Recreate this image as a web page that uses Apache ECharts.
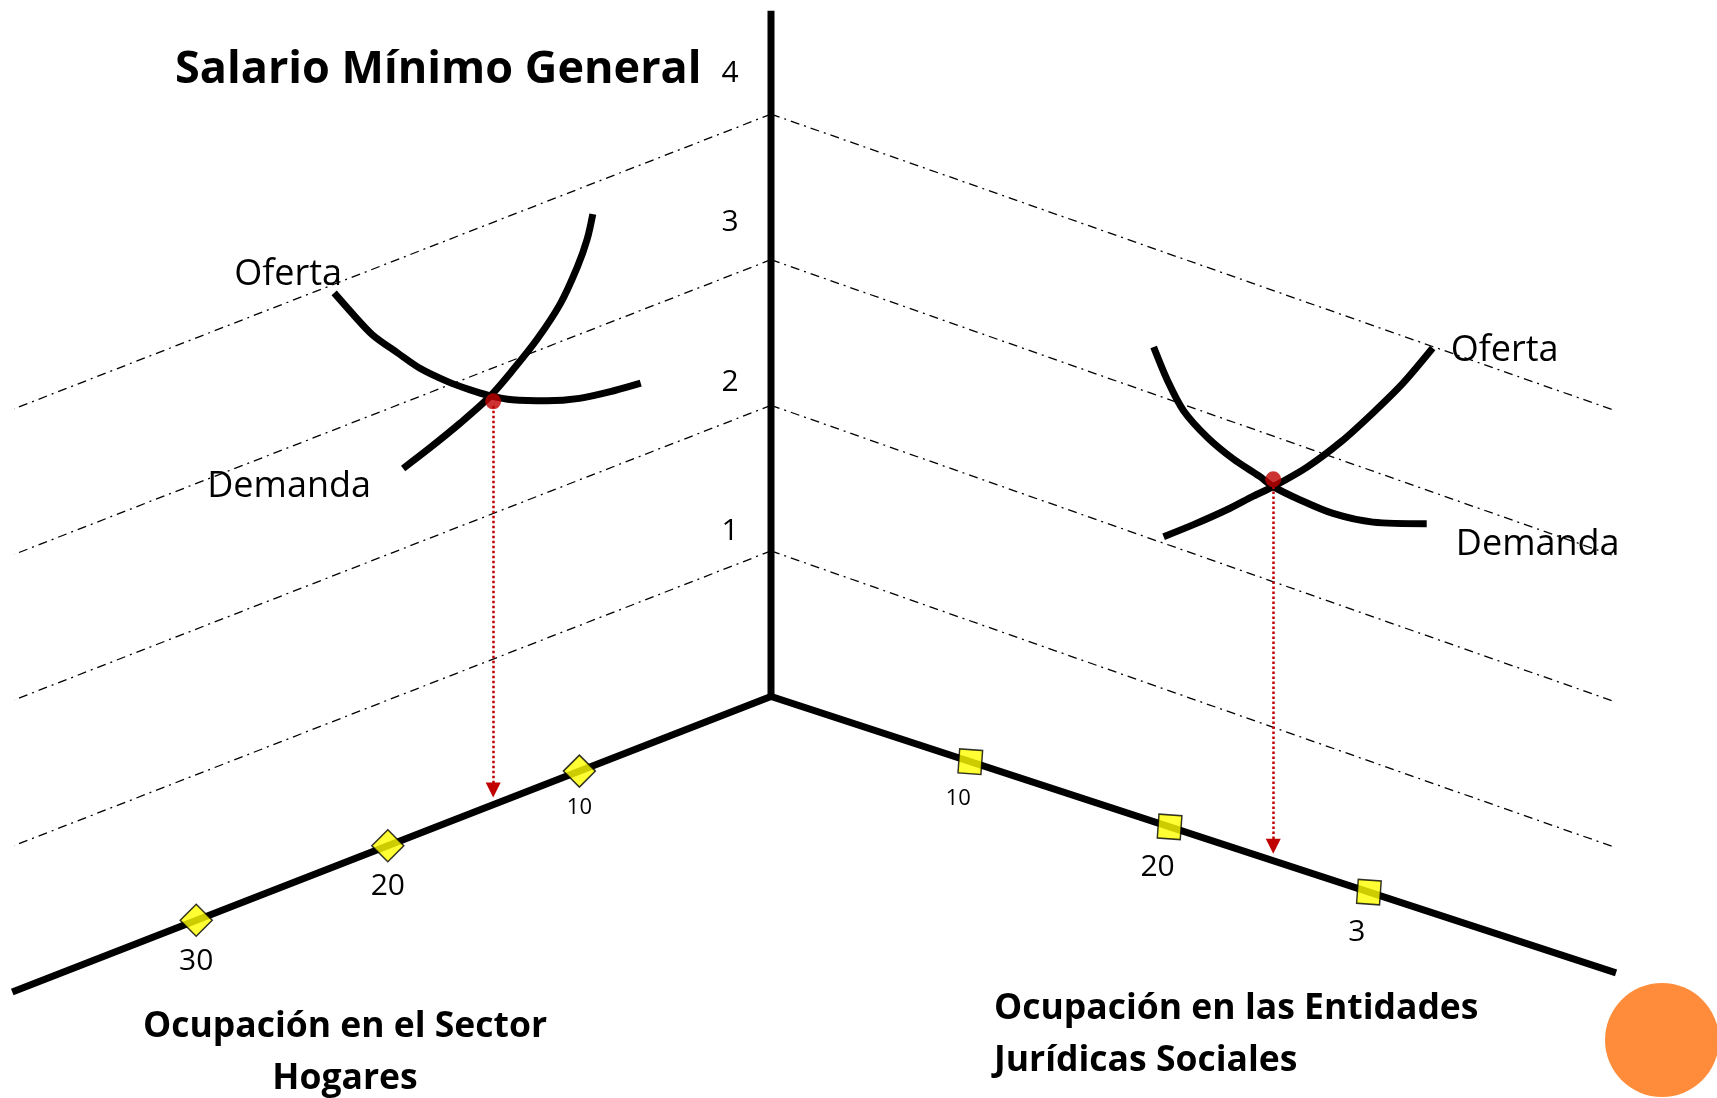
<!DOCTYPE html>
<html>
<head>
<meta charset="utf-8">
<title>Salario Mínimo General</title>
<script src="https://cdn.jsdelivr.net/npm/echarts@6/dist/echarts.min.js"></script>
<style>
    html, body { margin: 0; padding: 0; background: #fff; }
    #main { width: 1717px; height: 1098px; }
</style>
</head>
<body>
<div id="main"></div>
<script>
// eje vertical: salario minimo
var wageTicks = [1, 2, 3, 4];
var wageLabels = ['1', '2', '3', '4'];
var wageMax = 4.71;

// eje izquierdo: ocupacion en el sector hogares  [ocupacion, salario]
var hogaresTicks = [10, 20, 30];
var hogaresLabels = ['10', '20', '30'];
var hogaresMax = 39.6;
var hogaresOferta = [[22.8, 3.94], [21.8, 3.74], [20.8, 3.55], [19.5, 3.36], [18.3, 3.19], [16.9, 3.03], [15.7, 2.91],
    [14.7, 2.82], [13.5, 2.73], [11.7, 2.63], [10.0, 2.56], [8.2, 2.52], [6.8, 2.50]];
var hogaresDemanda = [[19.2, 2.55], [17.8, 2.62], [16.2, 2.71], [14.7, 2.81], [13.5, 2.93], [12.2, 3.08],
    [11.0, 3.26], [10.1, 3.47], [9.6, 3.63], [9.3, 3.79]];
var hogaresEquilibrio = [14.5, 2.77];

// eje derecho: ocupacion en las entidades juridicas sociales
var entidadesTicks = [10, 20, 30];
var entidadesLabels = ['10', '20', '3'];
var entidadesMax = 42.4;
var entidadesOferta = [[19.7, 1.98], [21.2, 2.13], [22.9, 2.31], [24.2, 2.46], [25.2, 2.57], [26.9, 2.78],
    [28.6, 3.03], [30.2, 3.30], [31.7, 3.57], [33.2, 3.88]];
var entidadesDemanda = [[19.2, 3.26], [19.9, 3.06], [20.7, 2.89], [21.9, 2.76], [23.2, 2.67], [24.5, 2.61],
    [25.2, 2.57], [26.5, 2.54], [28.2, 2.52], [30.2, 2.55], [32.9, 2.66]];
var entidadesEquilibrio = [25.2, 2.62];

// proyeccion oblicua de los dos planos sobre la pantalla
var origin = [771, 696.5];
var unitL = [-19.16, 7.46];
var unitR = [19.93, 6.52];
var unitW = 145.6;
var rightTilt = 0.14;

function pl(u, w) {
    return [origin[0] + u * unitL[0], origin[1] + u * unitL[1] - w * unitW];
}
function pr(v, w) {
    return [origin[0] + v * unitR[0], origin[1] + v * unitR[1] - w * unitW];
}
function mapL(arr) { return arr.map(function (p) { return pl(p[0], p[1]); }); }
function mapR(arr) { return arr.map(function (p) { return pr(p[0], p[1]); }); }

var FONT = '"Open Sans", "Noto Sans", sans-serif';
var dashStyle = { color: '#000', width: 1.3, type: [9, 5, 2, 5] };
var axisStyle = { color: '#000', width: 7, join: 'miter' };
var curveStyle = { color: '#000', width: 7 };
var wageLabelDy = [-19, -23, -37, -41];

function lineSeries(points, style, z, smooth) {
    return {
        type: 'line', data: points, symbol: 'none', smooth: smooth || false,
        lineStyle: style, z: z, silent: true, clip: false, animation: false
    };
}

function txt(formatter, size, offset) {
    var l = { formatter: formatter, fontSize: size, color: '#000', opacity: 1, textBorderWidth: 0 };
    if (offset) l.offset = offset;
    return l;
}

function textSeries(items, z) {
    return {
        type: 'scatter', symbol: 'circle', symbolSize: 1, silent: true, animation: false,
        itemStyle: { color: 'rgba(0,0,0,0)' }, z: z,
        label: { show: true, position: 'inside', color: '#000', fontFamily: FONT },
        data: items
    };
}

var series = [];

// lineas de referencia (raya-punto)
wageTicks.forEach(function (k) {
    series.push(lineSeries([pl(0, k), pl(hogaresMax - 0.1, k)], dashStyle, 1));
    series.push(lineSeries([pr(0, k), pr(entidadesMax, k - rightTilt)], dashStyle, 1));
});

// ejes
series.push(lineSeries([pl(hogaresMax, 0), pl(0, 0), pr(entidadesMax, 0)], axisStyle, 2));
series.push(lineSeries([pl(0, 0), pl(0, wageMax)], axisStyle, 2));

// curvas de oferta y demanda
series.push(lineSeries(mapL(hogaresOferta), curveStyle, 3, 0.3));
series.push(lineSeries(mapL(hogaresDemanda), curveStyle, 3, 0.3));
series.push(lineSeries(mapR(entidadesOferta), curveStyle, 3, 0.3));
series.push(lineSeries(mapR(entidadesDemanda), curveStyle, 3, 0.3));

// equilibrio + flecha hasta el eje
series.push({
    type: 'scatter', symbol: 'circle', symbolSize: 16, silent: true, animation: false, z: 5,
    itemStyle: { color: '#C00000' },
    data: [pl(hogaresEquilibrio[0], hogaresEquilibrio[1]), pr(entidadesEquilibrio[0], entidadesEquilibrio[1])],
    markLine: {
        silent: true, animation: false,
        symbol: ['none', 'triangle'], symbolSize: 15,
        label: { show: false },
        lineStyle: { color: '#C00000', type: 'dotted', width: 2.5, opacity: 1 },
        data: [
            [{ coord: pl(hogaresEquilibrio[0], hogaresEquilibrio[1] - 0.03) }, { coord: pl(hogaresEquilibrio[0], 0.1) }],
            [{ coord: pr(entidadesEquilibrio[0], entidadesEquilibrio[1] - 0.05) }, { coord: pr(entidadesEquilibrio[0], 0.1) }]
        ]
    }
});

// marcas en los ejes de ocupacion
series.push({
    type: 'scatter', symbol: 'diamond', symbolSize: 32, silent: true, animation: false, z: 6,
    itemStyle: { color: '#FFFF00', borderColor: '#000', borderWidth: 1.5 },
    label: { show: true, position: 'bottom', distance: 9, color: '#000', fontFamily: FONT },
    data: hogaresTicks.map(function (t, i) {
        return { value: pl(t, 0), label: txt(hogaresLabels[i], i === 0 ? 22 : 30) };
    })
});
series.push({
    type: 'scatter', symbol: 'rect', symbolSize: [23, 24], symbolRotate: -4, silent: true, animation: false, z: 6,
    itemStyle: { color: '#FFFF00', borderColor: '#000', borderWidth: 1.5 },
    label: { show: true, position: 'bottom', distance: 12, offset: [-12, 0], color: '#000', fontFamily: FONT },
    data: entidadesTicks.map(function (t, i) {
        return { value: pr(t, 0), label: txt(entidadesLabels[i], i === 0 ? 22 : 30) };
    })
});

// etiquetas del eje vertical
series.push(textSeries(wageTicks.map(function (k, i) {
    return { value: pl(0, k), label: txt(wageLabels[i], 30, [-41, wageLabelDy[i]]) };
}), 7));

// nombres de las curvas
series.push(textSeries([
    { value: pl(hogaresOferta[0][0], hogaresOferta[0][1]), label: txt('Oferta', 36, [-46, -18]) },
    { value: pl(hogaresDemanda[0][0], hogaresDemanda[0][1]), label: txt('Demanda', 36, [-114, 18]) },
    { value: pr(entidadesOferta[9][0], entidadesOferta[9][1]), label: txt('Oferta', 36, [72, 3]) },
    { value: pr(entidadesDemanda[10][0], entidadesDemanda[10][1]), label: txt('Demanda', 36, [111, 21]) }
], 7));

var myChart = echarts.init(document.getElementById('main'));

var option = {
    animation: false,
    grid: { left: 0, right: 0, top: 0, bottom: 0 },
    xAxis: { type: 'value', min: 0, max: 1717, show: false },
    yAxis: { type: 'value', min: 0, max: 1098, inverse: true, show: false },
    graphic: [
        {
            type: 'text', x: 175, y: 70, z: 10,
            style: { text: 'Salario Mínimo General', font: 'bold 45px ' + FONT, fill: '#000', verticalAlign: 'middle' }
        },
        {
            type: 'text', x: 345, y: 1001, z: 10,
            style: { text: 'Ocupación en el Sector\nHogares', font: 'bold 35.5px ' + FONT, fill: '#000', align: 'center', verticalAlign: 'top', lineHeight: 52 }
        },
        {
            type: 'text', x: 994, y: 983, z: 10,
            style: { text: 'Ocupación en las Entidades\nJurídicas Sociales', font: 'bold 35.5px ' + FONT, fill: '#000', align: 'left', verticalAlign: 'top', lineHeight: 52 }
        },
        {
            type: 'circle', z: 10,
            shape: { cx: 1662, cy: 1040, r: 57 },
            style: { fill: '#FF8C3A' }
        }
    ],
    series: series
};

myChart.setOption(option);
</script>
</body>
</html>
